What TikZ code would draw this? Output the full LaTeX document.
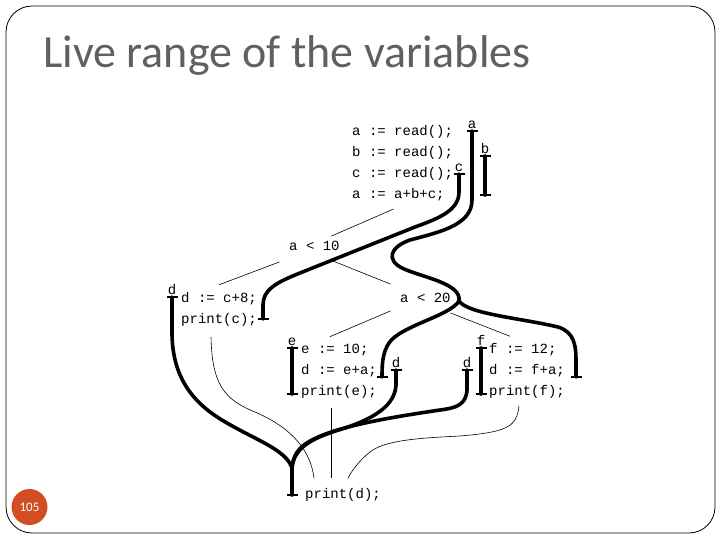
\documentclass[tikz,border=0pt]{standalone}
\usepackage{fontspec}
\setmainfont{Carlito}
\newfontfamily\codefont{Liberation Mono}
\usetikzlibrary{positioning}
\definecolor{titlegray}{RGB}{96,96,96}
\definecolor{slideorange}{RGB}{208,78,35}
\tikzset{
  code/.style={font=\codefont\fontsize{14}{21}\selectfont, inner sep=0pt, anchor=west, align=left},
  var/.style={font=\codefont\fontsize{14}{14}\selectfont, inner sep=0pt},
  live/.style={line width=3.6pt, line cap=round, line join=round},
  bar/.style={line width=2.6pt},
  flow/.style={line width=0.6pt}
}
\begin{document}
\begin{tikzpicture}[x=1pt, y=-1pt]
  \useasboundingbox (0,0) rectangle (720,540);
  \draw[line width=0.8pt, rounded corners=26pt] (6,6) rectangle (715,533);
  \node[anchor=base west, inner sep=0pt, text=titlegray, font=\fontsize{46}{46}\selectfont] (title) at (43,68) {Live range of the variables};
  \node[circle, fill=slideorange, minimum size=36pt, inner sep=0pt, text=white, font=\fontsize{13}{13}\selectfont] (pg) at (29.5,507) {105};

  % statements
  \node[code] (blk1) at (352,163) {a := read();\\b := read();\\c := read();\\a := a+b+c;};
  \node[code] (cond1) at (289,246) {a < 10};
  \node[code] (blk2) at (181,309) {d := c+8;\\print(c);};
  \node[code] (cond2) at (400,298) {a < 20};
  \node[code] (blk3) at (301,371) {e := 10;\\d := e+a;\\print(e);};
  \node[code] (blk4) at (489,371) {f := 12;\\d := f+a;\\print(f);};
  \node[code] (blk5) at (305,495) {print(d);};

  % control flow
  \draw[flow] ([shift={(-9,8)}]blk1.south) -- ([shift={(17,-5)}]cond1.north);
  \draw[flow] ([shift={(-35,11)}]cond1.south) -- ([shift={(0,-7)}]blk2.north);
  \draw[flow] ([shift={(16,9)}]cond1.south) -- ([shift={(-35,-9)}]cond2.north);
  \draw[flow] ([shift={(-35,8)}]cond2.south) -- ([shift={(-9,-7)}]blk3.north);
  \draw[flow] ([shift={(25,10)}]cond2.south) -- ([shift={(-17,-7)}]blk4.north);
  \draw[flow] ([shift={(-8,11)}]blk2.south) .. controls (212,385) and (225,400) .. (255,412)
    .. controls (285,425) and (310,445) .. ([shift={(-29,-10)}]blk5.north);
  \draw[flow] ([shift={(-8,10)}]blk3.south) -- ([shift={(-12,-10)}]blk5.north);
  \draw[flow] ([shift={(-8,7)}]blk4.south) .. controls (517,428) and (505,432) .. (460,436)
    .. controls (420,438) and (385,440) .. (370,452) .. controls (360,460) and (352,470) .. ([shift={(5,-10)}]blk5.north);

  % live ranges
  \coordinate (a0) at (472,131);
  \coordinate (a1) at (576,377);
  \coordinate (a2) at (382,377);
  \coordinate (b0) at (485,156);
  \coordinate (b1) at (485,195);
  \coordinate (c0) at (459,174);
  \coordinate (c1) at (263,319);
  \coordinate (d0) at (172,297);
  \coordinate (dm) at (292,468);
  \coordinate (d9) at (292,495);
  \coordinate (e0) at (292,348);
  \coordinate (e1) at (292,394);
  \coordinate (dE0) at (396,370);
  \coordinate (dF0) at (467,370);
  \coordinate (f0) at (481,348);
  \coordinate (f1) at (481,394);

  \node[var, above=2pt of a0] (la) {a};
  \node[var, above=2pt of b0] (lb) {b};
  \node[var, above=2pt of c0] (lc) {c};
  \node[var, above=2pt of d0] (ld) {d};
  \node[var, above=2pt of e0] (le) {e};
  \node[var, above=2pt of dE0] (ldE) {d};
  \node[var, above=2pt of dF0] (ldF) {d};
  \node[var, above=2pt of f0] (lf) {f};

  \draw[live] (a0) -- (472,200) .. controls (472,225) and (440,232) .. (410,240)
    .. controls (390,247) and (386,260) .. (402,268) .. controls (420,277) and (462,283) .. (459,301) coordinate (as);
  \draw[live] (as) .. controls (468,314) and (520,318) .. (558,327) .. controls (574,332) and (576,345) .. (576,360) -- (a1);
  \draw[live] (as) .. controls (450,316) and (400,326) .. (389,343) .. controls (383,352) and (382,362) .. (a2);
  \draw[live] (b0) -- (b1);
  \draw[live] (c0) -- (459,192) .. controls (459,210) and (440,218) .. (415,227) -- (300,273)
    .. controls (275,283) and (263,290) .. (263,305) -- (c1);
  \draw[live] (d0) -- (172,335) .. controls (173,380) and (195,405) .. (227,423)
    .. controls (258,441) and (286,450) .. (dm);
  \draw[live] (dm) -- (d9);
  \draw[live] (dE0) -- (396,385) .. controls (395,405) and (375,418) .. (345,428)
    .. controls (315,437) and (294,446) .. (dm);
  \draw[live] (dF0) -- (467,390) .. controls (466,405) and (456,408) .. (440,410)
    .. controls (400,416) and (340,425) .. (312,440) .. controls (298,447) and (293,456) .. (dm);
  \draw[live] (e0) -- (e1);
  \draw[live] (f0) -- (f1);
  \foreach \p in {a0,a1,a2,b0,b1,c0,c1,d0,d9,e0,e1,dE0,dF0,f0,f1}
    \draw[bar] ([xshift=-5.5pt]\p) -- ([xshift=5.5pt]\p);
\end{tikzpicture}
\end{document}
